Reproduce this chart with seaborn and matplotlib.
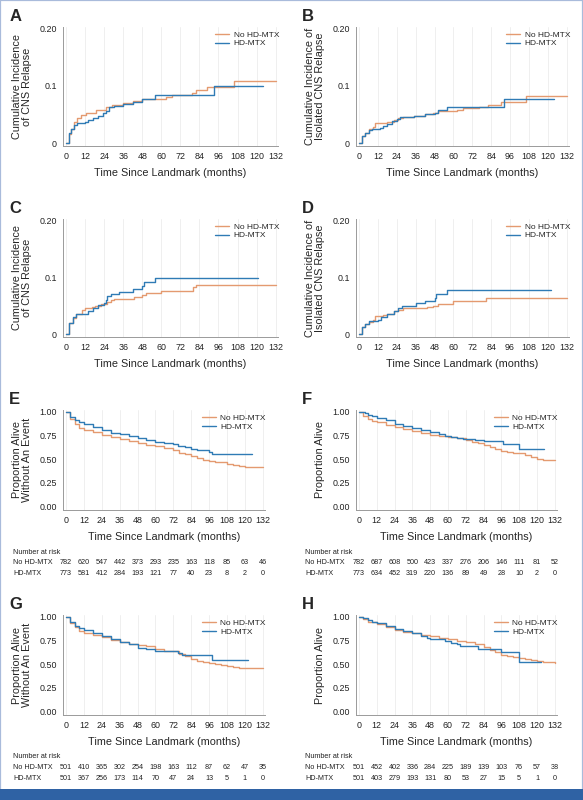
import numpy as np
import pandas as pd
import matplotlib
matplotlib.use("Agg")
import matplotlib.pyplot as plt
import matplotlib.transforms as mtransforms
from matplotlib.patches import Rectangle
import seaborn as sns

sns.set_style("white")
plt.rcParams['font.family'] = ['Liberation Sans', 'DejaVu Sans']

ORANGE = "#e49a70"
BLUE = "#2f7bb5"
GROUPS = ["No HD-MTX", "HD-MTX"]
MONTH_TICKS = list(range(0, 133, 12))
CI_TICKS = [0, 0.1, 0.20]
CI_LABELS = ["0", "0.1", "0.20"]
SURV_TICKS = [0, 0.25, 0.5, 0.75, 1.0]
SURV_LABELS = ["0.00", "0.25", "0.50", "0.75", "1.00"]

# -----------------------------
# curve data (months, value)
# -----------------------------
a_no_t = [0, 2, 3, 5, 7, 9.5, 12.5, 19, 25, 29, 36, 42, 48, 63, 67, 79, 82, 89, 106, 132]
a_no_v = [0, 0.016, 0.025, 0.037, 0.043, 0.049, 0.053, 0.058, 0.062, 0.066, 0.069, 0.074, 0.077, 0.080, 0.083, 0.088, 0.093, 0.097, 0.108, 0.108]
a_hd_t = [0, 2, 3, 5, 7, 12, 14, 17, 20, 23, 25, 27, 30, 36, 42, 48, 56, 93, 124]
a_hd_v = [0, 0.018, 0.025, 0.032, 0.035, 0.036, 0.040, 0.044, 0.047, 0.052, 0.056, 0.062, 0.065, 0.068, 0.072, 0.077, 0.083, 0.099, 0.099]

b_no_t = [0, 2, 4, 6, 9, 10, 18, 22, 25, 28, 35, 42, 47, 50, 62, 66, 76, 82, 90, 106, 132]
b_no_v = [0, 0.012, 0.018, 0.025, 0.028, 0.035, 0.036, 0.040, 0.043, 0.046, 0.048, 0.050, 0.052, 0.056, 0.058, 0.061, 0.063, 0.067, 0.071, 0.082, 0.082]
b_hd_t = [0, 2, 4, 6, 8, 13, 15, 18, 21, 24, 26, 35, 42, 48, 50, 56, 92, 124]
b_hd_v = [0, 0.013, 0.018, 0.022, 0.024, 0.026, 0.030, 0.034, 0.038, 0.042, 0.045, 0.047, 0.050, 0.053, 0.058, 0.062, 0.077, 0.077]

c_no_t = [0, 2, 4, 6, 8, 10, 12, 16, 18, 22, 26, 28, 30, 43, 48, 50, 60, 80, 82, 132]
c_no_v = [0, 0.02, 0.028, 0.035, 0.036, 0.043, 0.045, 0.047, 0.049, 0.053, 0.057, 0.060, 0.062, 0.066, 0.068, 0.072, 0.076, 0.082, 0.087, 0.087]
c_hd_t = [0, 2, 4, 6, 12, 14, 17, 20, 24, 25, 26, 28, 33, 42, 48, 49, 56, 121]
c_hd_v = [0, 0.02, 0.03, 0.035, 0.036, 0.040, 0.046, 0.051, 0.055, 0.060, 0.067, 0.070, 0.074, 0.080, 0.085, 0.091, 0.098, 0.098]

d_no_t = [0, 2, 4, 6, 9, 10, 15, 18, 22, 25, 28, 43, 47, 50, 60, 81, 132]
d_no_v = [0, 0.012, 0.018, 0.022, 0.025, 0.032, 0.033, 0.036, 0.040, 0.042, 0.045, 0.047, 0.049, 0.053, 0.058, 0.063, 0.063]
d_hd_t = [0, 2, 4, 6, 12, 14, 18, 22, 25, 27, 36, 42, 48, 49, 56, 122]
d_hd_v = [0, 0.012, 0.018, 0.023, 0.025, 0.030, 0.035, 0.040, 0.045, 0.050, 0.054, 0.058, 0.063, 0.070, 0.077, 0.077]

e_no_t = [0, 3, 6, 9, 12, 18, 24, 30, 36, 42, 48, 54, 60, 66, 72, 76, 80, 84, 88, 92, 96, 100, 104, 108, 112, 116, 120, 132]
e_no_v = [1, 0.93, 0.87, 0.83, 0.81, 0.79, 0.755, 0.73, 0.71, 0.69, 0.67, 0.655, 0.635, 0.62, 0.60, 0.57, 0.555, 0.535, 0.51, 0.495, 0.485, 0.475, 0.47, 0.455, 0.44, 0.425, 0.42, 0.42]
e_hd_t = [0, 3, 6, 9, 12, 18, 24, 30, 36, 42, 48, 54, 60, 66, 72, 75, 80, 84, 88, 96, 98, 125]
e_hd_v = [1, 0.95, 0.91, 0.89, 0.87, 0.84, 0.81, 0.78, 0.765, 0.745, 0.72, 0.70, 0.68, 0.67, 0.66, 0.64, 0.625, 0.605, 0.60, 0.58, 0.555, 0.555]

f_no_t = [0, 3, 6, 9, 12, 18, 24, 30, 36, 42, 48, 54, 60, 66, 72, 76, 80, 84, 88, 92, 96, 100, 104, 108, 112, 116, 120, 124, 132]
f_no_v = [1, 0.96, 0.93, 0.905, 0.89, 0.865, 0.84, 0.82, 0.80, 0.78, 0.76, 0.745, 0.73, 0.72, 0.70, 0.68, 0.67, 0.655, 0.625, 0.605, 0.59, 0.575, 0.57, 0.565, 0.545, 0.525, 0.505, 0.495, 0.49]
f_hd_t = [0, 4, 6, 9, 12, 18, 24, 30, 36, 42, 48, 54, 58, 62, 66, 70, 78, 84, 97, 108, 124.5]
f_hd_v = [1, 0.985, 0.97, 0.955, 0.94, 0.91, 0.875, 0.855, 0.835, 0.805, 0.785, 0.765, 0.745, 0.735, 0.72, 0.715, 0.705, 0.69, 0.665, 0.61, 0.61]

g_no_t = [0, 3, 6, 9, 12, 18, 24, 30, 36, 42, 48, 54, 60, 66, 72, 76, 80, 84, 88, 92, 96, 100, 104, 108, 112, 116, 120, 132]
g_no_v = [1, 0.94, 0.89, 0.855, 0.83, 0.81, 0.785, 0.76, 0.735, 0.715, 0.70, 0.69, 0.66, 0.645, 0.635, 0.605, 0.59, 0.56, 0.535, 0.525, 0.515, 0.50, 0.495, 0.485, 0.475, 0.465, 0.46, 0.46]
g_hd_t = [0, 3, 6, 9, 12, 18, 24, 30, 36, 42, 48, 54, 60, 66, 72, 75, 78, 98, 122]
g_hd_v = [1, 0.95, 0.905, 0.88, 0.86, 0.83, 0.795, 0.765, 0.735, 0.71, 0.675, 0.665, 0.645, 0.64, 0.635, 0.615, 0.60, 0.55, 0.55]

h_no_t = [0, 3, 6, 12, 18, 24, 30, 36, 42, 48, 54, 60, 66, 72, 78, 84, 88, 92, 96, 100, 104, 108, 112, 116, 120, 124, 132]
h_no_v = [1, 0.975, 0.95, 0.92, 0.89, 0.865, 0.845, 0.825, 0.81, 0.795, 0.78, 0.765, 0.75, 0.73, 0.71, 0.685, 0.655, 0.625, 0.60, 0.59, 0.575, 0.565, 0.555, 0.545, 0.53, 0.52, 0.515]
h_hd_t = [0, 3, 6, 9, 12, 18, 24, 30, 36, 42, 46, 48, 58, 62, 66, 68, 80, 96, 108, 123]
h_hd_v = [1, 0.99, 0.97, 0.95, 0.935, 0.90, 0.87, 0.855, 0.825, 0.80, 0.78, 0.765, 0.745, 0.725, 0.71, 0.69, 0.665, 0.627, 0.52, 0.52]

# number at risk
e_risk_no = [782, 620, 547, 442, 373, 293, 235, 163, 118, 85, 63, 46]
e_risk_hd = [773, 581, 412, 284, 193, 121, 77, 40, 23, 8, 2, 0]
f_risk_no = [782, 687, 608, 500, 423, 337, 276, 206, 146, 111, 81, 52]
f_risk_hd = [773, 634, 452, 319, 220, 136, 89, 49, 28, 10, 2, 0]
g_risk_no = [501, 410, 365, 302, 254, 198, 163, 112, 87, 62, 47, 35]
g_risk_hd = [501, 367, 256, 173, 114, 70, 47, 24, 13, 5, 1, 0]
h_risk_no = [501, 452, 402, 336, 284, 225, 189, 139, 103, 76, 57, 38]
h_risk_hd = [501, 403, 279, 193, 131, 80, 53, 27, 15, 5, 1, 0]

XLABEL = "Time Since Landmark (months)"


def make_df(no_t, no_v, hd_t, hd_v):
    return pd.concat([
        pd.DataFrame({"month": no_t, "value": no_v, "group": GROUPS[0]}),
        pd.DataFrame({"month": hd_t, "value": hd_v, "group": GROUPS[1]}),
    ], ignore_index=True)


def draw_panel(fig, rect, letter, df, ylabel, kind):
    ax = fig.add_axes(rect)
    sns.lineplot(data=df, x="month", y="value", hue="group", hue_order=GROUPS,
                 palette=[ORANGE, BLUE], estimator=None, drawstyle="steps-post",
                 linewidth=1.0, ax=ax)
    ax.set_xticks(MONTH_TICKS)
    ax.set_xlim(-2, 133.5)
    if kind == "ci":
        ax.set_yticks(CI_TICKS)
        ax.set_yticklabels(CI_LABELS)
        ax.set_ylim(-0.005, 0.202)
    else:
        ax.set_yticks(SURV_TICKS)
        ax.set_yticklabels(SURV_LABELS)
        ax.set_ylim(-0.035, 1.02)
    for x in MONTH_TICKS:
        ax.axvline(x, color="#ececec", lw=0.6, zorder=0)
    sns.despine(ax=ax)
    for s in ["left", "bottom"]:
        ax.spines[s].set_color("#9a9a9a")
        ax.spines[s].set_linewidth(0.7)
    ax.tick_params(axis="both", length=2.5, width=0.6, color="#9a9a9a",
                   labelsize=6.4, pad=2, labelcolor="#222222")
    ax.set_xlabel(XLABEL, fontsize=7.8, labelpad=5)
    ax.set_ylabel(ylabel, fontsize=7.8, labelpad=5, linespacing=1.05)
    ax.legend(title=None, frameon=False, loc="upper right", bbox_to_anchor=(1.04, 1.03),
              handlelength=1.7, handletextpad=0.5, labelspacing=0.1,
              prop={"size": 6})
    fig.text(rect[0] - 0.092, rect[1] + rect[3] + 0.013, letter, fontsize=12,
             fontweight="bold", va="center")
    return ax


def risk_table(fig, ax, y0, risk_no, risk_hd, label_x):
    trans = mtransforms.blended_transform_factory(ax.transData, fig.transFigure)
    fig.text(label_x, y0, "Number at risk", fontsize=5.2, va="center", color="#222222")
    for row, (name, vals) in enumerate([(GROUPS[0], risk_no), (GROUPS[1], risk_hd)]):
        yy = y0 - 0.0135 * (row + 1)
        fig.text(label_x, yy, name, fontsize=5.2, va="center", color="#222222")
        for m, v in zip(MONTH_TICKS, vals):
            ax.text(m, yy, str(v), transform=trans, fontsize=5.2,
                    ha="center", va="center", color="#222222")


fig = plt.figure(figsize=(5.83, 8.0), dpi=100)

W = 583.0
H = 800.0
left_l = 63 / W
left_r = 356 / W
w_top = 215 / W
w_bot = 202 / W

ax_a = draw_panel(fig, [left_l, 1 - 146 / H, w_top, 119 / H], "A",
                  make_df(a_no_t, a_no_v, a_hd_t, a_hd_v),
                  "Cumulative Incidence\nof CNS Relapse", "ci")
ax_b = draw_panel(fig, [left_r, 1 - 146 / H, w_top - 2 / W, 119 / H], "B",
                  make_df(b_no_t, b_no_v, b_hd_t, b_hd_v),
                  "Cumulative Incidence of\nIsolated CNS Relapse", "ci")
ax_c = draw_panel(fig, [left_l, 1 - 337 / H, w_top, 118 / H], "C",
                  make_df(c_no_t, c_no_v, c_hd_t, c_hd_v),
                  "Cumulative Incidence\nof CNS Relapse", "ci")
ax_d = draw_panel(fig, [left_r, 1 - 337 / H, w_top - 2 / W, 118 / H], "D",
                  make_df(d_no_t, d_no_v, d_hd_t, d_hd_v),
                  "Cumulative Incidence of\nIsolated CNS Relapse", "ci")
ax_e = draw_panel(fig, [left_l, 1 - 510 / H, w_bot, 100 / H], "E",
                  make_df(e_no_t, e_no_v, e_hd_t, e_hd_v),
                  "Proportion Alive\nWithout An Event", "surv")
ax_f = draw_panel(fig, [left_r, 1 - 510 / H, w_bot - 1 / W, 100 / H], "F",
                  make_df(f_no_t, f_no_v, f_hd_t, f_hd_v),
                  "Proportion Alive", "surv")
ax_g = draw_panel(fig, [left_l, 1 - 715 / H, w_bot, 100 / H], "G",
                  make_df(g_no_t, g_no_v, g_hd_t, g_hd_v),
                  "Proportion Alive\nWithout An Event", "surv")
ax_h = draw_panel(fig, [left_r, 1 - 715 / H, w_bot - 1 / W, 100 / H], "H",
                  make_df(h_no_t, h_no_v, h_hd_t, h_hd_v),
                  "Proportion Alive", "surv")

risk_table(fig, ax_e, 1 - 552 / H, e_risk_no, e_risk_hd, 13 / W)
risk_table(fig, ax_f, 1 - 552 / H, f_risk_no, f_risk_hd, 305 / W)
risk_table(fig, ax_g, 1 - 757 / H, g_risk_no, g_risk_hd, 13 / W)
risk_table(fig, ax_h, 1 - 757 / H, h_risk_no, h_risk_hd, 305 / W)

# frame: thin light border and dark bar at the bottom
fig.patches.append(Rectangle((0, 0), 1, 1, transform=fig.transFigure, fill=False,
                             edgecolor="#a9bbdb", linewidth=1.6, zorder=-1))
fig.patches.append(Rectangle((0, 0), 1, 11 / H, transform=fig.transFigure,
                             facecolor="#2f62a4", edgecolor="none", zorder=5))

fig.savefig("out.png", dpi=100)
